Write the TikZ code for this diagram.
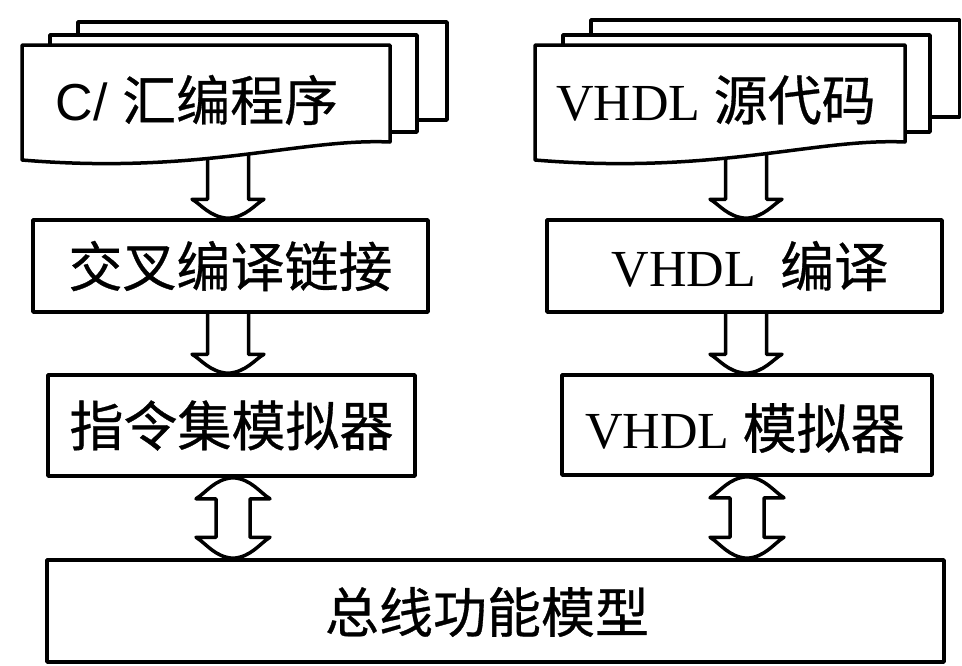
\documentclass[tikz,border=0pt]{standalone}
\usepackage{fontspec}
\setmainfont{Liberation Serif}
\newfontfamily\cjk[FakeBold=0.6]{Noto Sans CJK SC}
\newfontfamily\lsans{Liberation Sans}
\usetikzlibrary{calc}
\pgfdeclarelayer{background}
\pgfsetlayers{background,main}
% hollow down arrow: #1 = start (above), #2 = tip
\newcommand\hollowdown[2]{%
  \filldraw[harr] let \p1=(#2), \p2=(#1) in
    (\x1-20.5pt,\y2) -- (\x1-20.5pt,\y1+19pt) -- (\x1-36pt,\y1+19pt)
    .. controls (\x1-27pt,\y1+14pt) and (\x1-18pt,\y1+1pt) .. (\x1,\y1)
    .. controls (\x1+18pt,\y1+1pt) and (\x1+27pt,\y1+14pt) .. (\x1+36pt,\y1+19pt)
    -- (\x1+20.5pt,\y1+19pt) -- (\x1+20.5pt,\y2);}
% hollow double arrow: #1 = upper tip, #2 = lower tip
\newcommand\hollowboth[2]{%
  \filldraw[harr] let \p1=(#1), \p2=(#2) in
    (\x1,\y1)
    .. controls (\x1+18pt,\y1-1pt) and (\x1+27pt,\y1-15pt) .. (\x1+37pt,\y1-21pt)
    -- (\x1+17pt,\y1-21pt) -- (\x1+17pt,\y2+21pt) -- (\x1+37pt,\y2+21pt)
    .. controls (\x1+27pt,\y2+15pt) and (\x1+18pt,\y2+1pt) .. (\x1,\y2)
    .. controls (\x1-18pt,\y2+1pt) and (\x1-27pt,\y2+15pt) .. (\x1-37pt,\y2+21pt)
    -- (\x1-17pt,\y2+21pt) -- (\x1-17pt,\y1-21pt) -- (\x1-37pt,\y1-21pt)
    .. controls (\x1-27pt,\y1-15pt) and (\x1-18pt,\y1-1pt) .. cycle;}
\begin{document}
\begin{tikzpicture}[x=1pt,y=-1pt,
  ln/.style={line width=3.5pt, line join=round},
  doc/.style={ln, draw, fill=white},
  box/.style={ln, draw, rectangle, inner sep=0pt},
  harr/.style={ln, draw=black, fill=white},
  lbl/.style={font=\fontsize{54}{60}\selectfont\cjk, inner sep=0pt}
]
\useasboundingbox (0,0) rectangle (962,665);

% left document stack
\draw[doc] (78,22) rectangle (447,120);
\draw[doc] (50,35) rectangle (417,132);
\draw[doc] (22,45) -- (390,45) -- (390,142) .. controls (300,138) and (200,175) .. (22,160) -- cycle;
\node[inner sep=0pt] (srcL) at (197,100) {\fontsize{52}{60}\selectfont\lsans C/ \cjk\fontsize{54}{60}\selectfont 汇编程序};
\coordinate (srcLb) at (228,150);

% right document stack
\draw[doc] (591,20) rectangle (959.5,117);
\draw[doc] (563,35) rectangle (930,132);
\draw[doc] (535,45) -- (905,45) -- (905,142) .. controls (815,138) and (715,175) .. (535,160) -- cycle;
\node[inner sep=0pt] (srcR) at (716,100) {\fontsize{52}{60}\selectfont VHDL \cjk\fontsize{54}{60}\selectfont 源代码};
\coordinate (srcRb) at (746,150);

% boxes
\node[box, minimum width=395pt, minimum height=92pt] (cc) at (230.5,266) {};
\node[lbl] (ccT) at (cc) {交叉编译链接};
\node[box, minimum width=367pt, minimum height=101pt] (iss) at (231.5,425.5) {};
\node[lbl] (issT) at (iss) {指令集模拟器};
\node[box, minimum width=395pt, minimum height=92pt] (vc) at (744.5,266) {};
\node[inner sep=0pt] (vcT) at (750,266) {\fontsize{52}{60}\selectfont VHDL\hspace{24pt}\cjk\fontsize{54}{60}\selectfont 编译};
\node[box, minimum width=370pt, minimum height=100pt] (vs) at (747,425) {};
\node[inner sep=0pt] (vsT) at (745,428) {\fontsize{52}{60}\selectfont VHDL \cjk\fontsize{54}{60}\selectfont 模拟器};
\node[box, minimum width=897pt, minimum height=102pt] (bus) at (495.5,611) {};
\node[lbl] (busT) at (487,612) {总线功能模型};

\coordinate (axL) at (228,0);
\coordinate (axR) at (746,0);
\coordinate (bxL) at (233,0);
\coordinate (bxR) at (747,0);

\begin{pgfonlayer}{background}
\hollowdown{srcLb}{cc.north -| axL}
\hollowdown{cc.south -| axL}{iss.north -| axL}
\hollowdown{srcRb}{vc.north -| axR}
\hollowdown{vc.south -| axR}{vs.north -| axR}
\hollowboth{iss.south -| bxL}{bus.north -| bxL}
\hollowboth{vs.south -| bxR}{bus.north -| bxR}
\end{pgfonlayer}
\end{tikzpicture}
\end{document}
